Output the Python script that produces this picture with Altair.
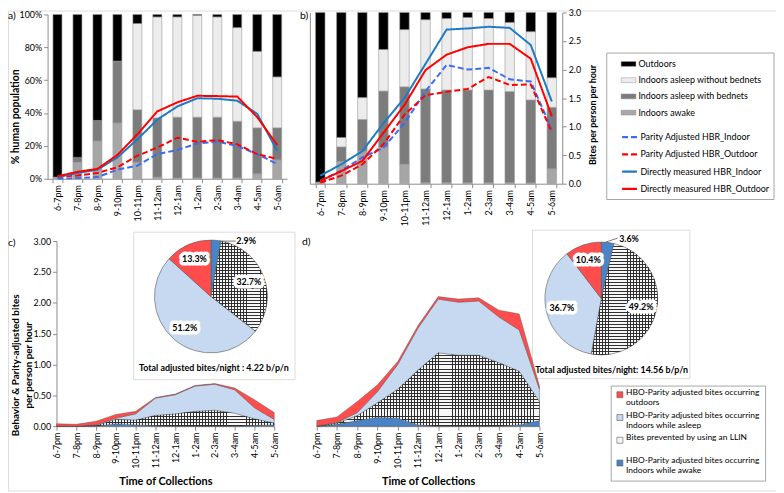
import altair as alt
import pandas as pd

FONT = "Lato"

times = ["6-7pm", "7-8pm", "8-9pm", "9-10pm", "10-11pm", "11-12am",
         "12-1am", "1-2am", "2-3am", "3-4am", "4-5am", "5-6am"]

# ---- panel a: human behaviour (% of population) ----
bar_cats = ["Outdoors", "Indoors asleep without bednets",
            "Indoors asleep with bednets", " Indoors awake"]
bar_colors = ["#000000", "#ececec", "#7c7c7c", "#a6a6a6"]

a_awake = [1, 10, 23, 34, 10, 1, 0.5, 0.5, 0.5, 0.5, 3, 11.5]
a_with = [0, 3, 12.5, 37.6, 32, 36, 37, 37, 37, 34.5, 28, 19.5]
a_without = [0, 0, 0, 0, 52.5, 61.5, 61, 62, 61, 57, 46.5, 31]
a_out = [99, 87, 64.5, 28.4, 5.5, 1.5, 1.5, 0.5, 1.5, 8, 22.5, 38]

line_names = ["Parity Adjusted HBR_Indoor", "Parity Adjusted HBR_Outdoor",
              "Directly measured HBR_Indoor", "Directly measured HBR_Outdoor"]
line_colors = ["#3d6cf2", "#ff0000", "#1f7ac4", "#ff0000"]
line_dashes = [[6, 3], [6, 3], [1, 0], [1, 0]]

a_par_in = [0, 0.5, 1, 5.5, 8, 15, 17.5, 21.5, 22.5, 20, 15, 9]
a_par_out = [1, 2, 3.5, 7, 14, 19, 25, 22.5, 23.5, 21, 15, 12]
a_dir_in = [1, 3.5, 5.5, 13, 24, 36, 44, 49, 48.7, 47.5, 39.5, 17]
a_dir_out = [1.5, 4.2, 6, 14.5, 27, 41, 46.5, 50.5, 50.3, 50, 37.5, 20.5]

# ---- panel b ----
b_awake = [1, 13, 19, 21.4, 11.4, 0.5, 0.5, 0.5, 0.5, 0.5, 0.5, 8.7]
b_with = [0, 8.5, 18.5, 32.7, 45.2, 54.8, 54.2, 54.2, 54.2, 53.3, 48.4, 35.9]
b_without = [0, 5.5, 12.8, 24.3, 33.4, 40.5, 41.8, 42.4, 41.8, 40.4, 39.9, 17.3]
b_out = [99, 73, 49.7, 21.6, 10, 4.2, 3.5, 2.9, 3.5, 5.8, 11.2, 38.1]

b_par_in = [0.05, 0.23, 0.46, 0.63, 1.06, 1.62, 2.08, 2.0, 2.03, 1.83, 1.79, 0.95]
b_par_out = [0.02, 0.14, 0.34, 0.69, 1.21, 1.55, 1.61, 1.66, 1.87, 1.73, 1.74, 0.9]
b_dir_in = [0.14, 0.34, 0.57, 1.06, 1.5, 2.1, 2.7, 2.72, 2.75, 2.73, 2.43, 1.44]
b_dir_out = [0.05, 0.22, 0.40, 0.89, 1.38, 1.99, 2.26, 2.39, 2.45, 2.45, 2.19, 1.18]

# ---- panels c / d: adjusted bites ----
area_cats = ["HBO-Parity adjusted bites occurring|outdoors",
             "HBO-Parity adjusted bites occurring|Indoors while asleep",
             "Bites prevented by using an LLIN| ",
             "HBO-Parity adjusted bites occurring|Indoors while awake"]
area_colors = ["#ff4d4d", "#c6d9f1", "#f7f7f7", "#4a84c8"]

c_awake = [0, 0, 0, 0.04, 0.02, 0.005, 0, 0, 0, 0, 0.01, 0.02]
c_llin = [0, 0, 0.01, 0.07, 0.08, 0.17, 0.2, 0.24, 0.26, 0.21, 0.11, 0.03]
c_asleep = [0, 0, 0.01, 0.02, 0.10, 0.28, 0.31, 0.41, 0.42, 0.38, 0.18, 0.06]
c_out = [0.04, 0.03, 0.06, 0.06, 0.04, 0.01, 0.01, 0.01, 0.01, 0.03, 0.13, 0.11]

d_awake = [0, 0.03, 0.09, 0.14, 0.13, 0.02, 0, 0, 0, 0, 0.02, 0.09]
d_llin = [0, 0.02, 0.08, 0.24, 0.47, 0.89, 1.19, 1.15, 1.15, 1.03, 0.87, 0.31]
d_asleep = [0, 0.01, 0.05, 0.18, 0.40, 0.68, 0.87, 0.86, 0.88, 0.74, 0.67, 0.20]
d_out = [0.09, 0.09, 0.18, 0.11, 0.05, 0.04, 0.04, 0.05, 0.05, 0.11, 0.26, 0.05]

# pie shares, clockwise from 12 o'clock: awake, LLIN, asleep, outdoors
c_pie = [2.9, 32.7, 51.2, 13.3]
d_pie = [3.6, 49.2, 36.7, 10.4]
c_total = "Total adjusted bites/night : 4.22 b/p/n"
d_total = "Total adjusted bites/night: 14.56 b/p/n"


def long_df(series, names, orders):
    rows = []
    for vals, name, o in zip(series, names, orders):
        for t, v in zip(times, vals):
            rows.append({"time": t, "cat": name, "val": v, "ord": o})
    return pd.DataFrame(rows)


bar_order_names = [bar_cats[3], bar_cats[2], bar_cats[1], bar_cats[0]]
area_order_names = [area_cats[3], area_cats[2], area_cats[1], area_cats[0]]

a_bar_df = long_df([a_awake, a_with, a_without, a_out], bar_order_names, [1, 2, 3, 4])
b_bar_df = long_df([b_awake, b_with, b_without, b_out], bar_order_names, [1, 2, 3, 4])
a_line_df = long_df([a_par_in, a_par_out, a_dir_in, a_dir_out], line_names, [1, 2, 3, 4])
b_line_df = long_df([b_par_in, b_par_out, b_dir_in, b_dir_out], line_names, [1, 2, 3, 4])
c_area_df = long_df([c_awake, c_llin, c_asleep, c_out], area_order_names, [1, 2, 3, 4])
d_area_df = long_df([d_awake, d_llin, d_asleep, d_out], area_order_names, [1, 2, 3, 4])


def pie_df(vals):
    return pd.DataFrame({
        "cat": area_order_names, "val": vals, "ord": [1, 2, 3, 4],
        "lab_in": ["" if i == 0 else f"{v}%" for i, v in enumerate(vals)],
        "lab_out": [f"{v}%" if i == 0 else "" for i, v in enumerate(vals)],
    })


c_pie_df = pie_df(c_pie)
d_pie_df = pie_df(d_pie)


# ---- cross-hatch texture made of hard-stop gradients ----
def stripes(n, horizontal):
    clear, ink = "rgba(0,0,0,0)", "#303030"
    stops = []
    for i in range(n):
        a, b, c = i / n, (i + 0.7) / n, (i + 1) / n
        stops += [alt.GradientStop(color=clear, offset=a),
                  alt.GradientStop(color=clear, offset=b),
                  alt.GradientStop(color=ink, offset=b),
                  alt.GradientStop(color=ink, offset=c)]
    if horizontal:
        return alt.LinearGradient(gradient="linear", stops=stops, x1=0, x2=0, y1=0, y2=1)
    return alt.LinearGradient(gradient="linear", stops=stops, x1=0, x2=1, y1=0, y2=0)


only_llin = alt.condition("datum.ord == 2", alt.value(1), alt.value(0))

# ---- scales / legends ----
color_scale = alt.Scale(domain=bar_cats, range=bar_colors)
stroke_scale = alt.Scale(domain=line_names, range=line_colors)
dash_scale = alt.Scale(domain=line_names, range=line_dashes)
fill_scale = alt.Scale(domain=area_cats, range=area_colors)

leg_bars = alt.Legend(orient="none", legendX=619, legendY=46, title=None,
                      symbolType="M-1,-0.33H1V0.33H-1Z", symbolSize=225,
                      symbolStrokeColor="#9a9a9a", symbolStrokeWidth=0.5,
                      labelFont=FONT, labelFontSize=9, labelOffset=2,
                      rowPadding=3.4, padding=0, labelLimit=300)
leg_lines = alt.Legend(orient="none", legendX=619, legendY=119, title=None,
                       symbolType="stroke", symbolSize=225, symbolStrokeWidth=2.2,
                       labelFont=FONT, labelFontSize=9, labelOffset=2,
                       rowPadding=3.4, padding=0, labelLimit=300)
leg_area = alt.Legend(orient="none", legendX=609, legendY=379, title=None,
                      symbolType="square", symbolSize=36, symbolStrokeWidth=0.6,
                      symbolStrokeColor="#595959", symbolOpacity=1,
                      labelExpr="split(datum.label, '|')",
                      labelFont=FONT, labelFontSize=8.5, labelOffset=2,
                      labelBaseline="alphabetic", labelLimit=300,
                      rowPadding=3, padding=5, strokeColor="#a6a6a6")

lab = dict(labelFont=FONT, labelFontSize=9, labelColor="#000000",
           domainColor="#8c8c8c", tickColor="#8c8c8c", grid=False)
title_style = dict(titleFont=FONT, titleFontWeight="bold", titleColor="#000000")

W, H = 776, 485

# ---- panel a ----
ax_a_x = alt.Axis(orient="bottom", offset=-(H - 170), labelAngle=-90, title=None,
                  tickBand="extent", tickSize=4, labelPadding=2, **lab)
ax_a_y = alt.Axis(orient="left", offset=-40, values=[0, 20, 40, 60, 80, 100],
                  labelExpr="datum.value + '%'", tickSize=4,
                  title="% human population", titleFontSize=10.5,
                  titleX=-32, titleY=107, titleAngle=270, titleAlign="center",
                  titleBaseline="middle", **title_style, **lab)
xa = alt.X("time:N", scale=alt.Scale(domain=times, range=[40, 282],
                                      paddingInner=0.55, paddingOuter=0.27), axis=ax_a_x)
a_bars = alt.Chart(a_bar_df).mark_bar(stroke="#9a9a9a", strokeWidth=0.6).encode(
    x=xa,
    y=alt.Y("val:Q", stack="zero", scale=alt.Scale(domain=[0, 100], range=[170, 4]), axis=ax_a_y),
    color=alt.Color("cat:N", scale=color_scale, legend=leg_bars),
    order=alt.Order("ord:Q"),
)
a_lines = alt.Chart(a_line_df).mark_line(strokeWidth=2).encode(
    x=xa,
    y=alt.Y("val:Q", stack=None, scale=alt.Scale(domain=[0, 100], range=[170, 4]), axis=ax_a_y),
    stroke=alt.Stroke("cat:N", scale=stroke_scale, legend=leg_lines),
    strokeDash=alt.StrokeDash("cat:N", scale=dash_scale, legend=leg_lines),
    order=alt.Order("ord:Q"),
)
A = alt.layer(a_bars, a_lines)

# ---- panel b ----
ax_b_x = alt.Axis(orient="bottom", offset=-(H - 175), labelAngle=-90, title=None,
                  tickBand="extent", tickSize=4, labelPadding=2, **lab)
ax_b_left = alt.Axis(orient="left", offset=-305, labels=False, ticks=False, title=None,
                     domainColor="#8c8c8c", grid=False)
ax_b_right = alt.Axis(orient="right", offset=-(W - 560), values=[0, 0.5, 1, 1.5, 2, 2.5, 3],
                      format=".1f", tickSize=4, title="Bites per person per hour",
                      titleFontSize=9, titleX=31, titleY=105, titleAngle=270,
                      titleAlign="center", titleBaseline="middle", **title_style, **lab)
xb = alt.X("time:N", scale=alt.Scale(domain=times, range=[305, 560],
                                      paddingInner=0.55, paddingOuter=0.27), axis=ax_b_x)
b_bars = alt.Chart(b_bar_df).mark_bar(stroke="#9a9a9a", strokeWidth=0.6).encode(
    x=xb,
    y=alt.Y("val:Q", stack="zero", scale=alt.Scale(domain=[0, 100], range=[175, 2]), axis=ax_b_left),
    color=alt.Color("cat:N", scale=color_scale, legend=leg_bars),
    order=alt.Order("ord:Q"),
)
b_lines = alt.Chart(b_line_df).mark_line(strokeWidth=2).encode(
    x=xb,
    y=alt.Y("val:Q", stack=None, scale=alt.Scale(domain=[0, 3], range=[175, 2]), axis=ax_b_right),
    stroke=alt.Stroke("cat:N", scale=stroke_scale, legend=leg_lines),
    strokeDash=alt.StrokeDash("cat:N", scale=dash_scale, legend=leg_lines),
    order=alt.Order("ord:Q"),
)
B = alt.layer(b_bars, b_lines).resolve_scale(y="independent")


# ---- panels c / d ----
def area_panel(df, x0, x1, yaxis, nx, ny):
    ax_x = alt.Axis(orient="bottom", offset=-(H - 420), labelAngle=-90, tickSize=4,
                    labelPadding=2, title="Time of Collections", titleFontSize=11,
                    titleY=56, titleBaseline="middle", **title_style, **lab)
    xenc = alt.X("time:N", scale=alt.Scale(type="point", domain=times, range=[x0, x1], padding=0),
                 axis=ax_x)
    yenc = alt.Y("val:Q", stack="zero", scale=alt.Scale(domain=[0, 3], range=[420, 233]),
                 axis=yaxis)
    base = alt.Chart(df).mark_area(stroke="#4d4d4d", strokeWidth=0.4).encode(
        x=xenc, y=yenc,
        fill=alt.Fill("cat:N", scale=fill_scale, legend=leg_area),
        order=alt.Order("ord:Q"),
    )
    layers = [base]
    for n, horiz in ((nx, False), (ny, True)):
        layers.append(alt.Chart(df).mark_area(fill=stripes(n, horiz)).encode(
            x=xenc, y=yenc, detail="cat:N", opacity=only_llin,
            order=alt.Order("ord:Q"),
        ))
    return layers


ax_c_y = alt.Axis(orient="left", offset=-49, values=[0, 0.5, 1, 1.5, 2, 2.5, 3],
                  format=".2f", tickSize=4,
                  title=["Behavior & Parity-adjusted bites", "per person per hour"],
                  titleFontSize=10, titleLineHeight=12.5, titleX=-41, titleY=358,
                  titleAngle=270, titleAlign="center", titleBaseline="middle",
                  **title_style, **lab)


def pie_layers(df, cx, cy, r, out_dx, out_dy, nx, ny):
    theta = alt.Theta("val:Q", stack=True)
    base = alt.Chart(df).encode(theta=theta, order=alt.Order("ord:Q"),
                                x=alt.value(cx), y=alt.value(cy))
    arcs = base.mark_arc(radius=r, stroke="#595959", strokeWidth=0.6).encode(
        fill=alt.Fill("cat:N", scale=fill_scale, legend=leg_area))
    hx = base.mark_arc(radius=r, fill=stripes(nx, False)).encode(opacity=only_llin)
    hy = base.mark_arc(radius=r, fill=stripes(ny, True)).encode(opacity=only_llin)
    halo = base.mark_text(radius=41, font=FONT, fontSize=9, fontWeight="bold",
                          color="white", stroke="white", strokeWidth=7,
                          strokeJoin="round").encode(text="lab_in:N")
    txt = base.mark_text(radius=41, font=FONT, fontSize=9, fontWeight="bold",
                         color="black").encode(text="lab_in:N")
    out = base.mark_text(radius=62, dx=out_dx, dy=out_dy, font=FONT, fontSize=9,
                         fontWeight="bold", color="black").encode(text="lab_out:N")
    return [arcs, hx, hy, halo, txt, out]


one = pd.DataFrame({"k": [0]})


def deco_rect(x0, y0, x1, y1, color):
    return alt.Chart(one).mark_rect(fill=None, stroke=color, strokeWidth=1).encode(
        x=alt.value(x0), x2=alt.value(x1), y=alt.value(y0), y2=alt.value(y1))


def leader(x0, y0, x1, y1):
    return alt.Chart(one).mark_rule(stroke="#595959", strokeWidth=0.8).encode(
        x=alt.value(x0), x2=alt.value(x1), y=alt.value(y0), y2=alt.value(y1))


def label(text, x, y, size=10.5, weight="normal", align="left"):
    return alt.Chart(pd.DataFrame({"t": [text]})).mark_text(
        font=FONT, fontSize=size, fontWeight=weight, align=align, baseline="middle",
        color="black").encode(text="t:N", x=alt.value(x), y=alt.value(y))


C = alt.layer(
    deco_rect(127, 224, 290, 373, "#dcdcdc"),
    *area_panel(c_area_df, 49, 269, ax_c_y, 73, 5),
    *pie_layers(c_pie_df, 205, 289, 57, 30, 6, 19, 30),
    leader(214, 233, 230, 233),
    label(c_total, 208, 361, 9, "bold", "center"),
)
D = alt.layer(
    deco_rect(530, 222, 689, 372, "#dcdcdc"),
    *area_panel(d_area_df, 312, 537, None, 75, 25),
    *pie_layers(d_pie_df, 599.5, 291, 57, 21, 2, 22, 37),
    leader(604, 234, 616, 230),
    label(d_total, 610, 363, 9, "bold", "center"),
)

extras = alt.layer(
    deco_rect(605, 43, 774, 191, "#a6a6a6"),
    label("a)", 0, 6, 10.5),
    label("b)", 295, 6, 10.5),
    label("c)", 0, 235, 10.5),
    label("d)", 297, 234, 10.5),
)

chart = alt.layer(A, B, C, D, extras).resolve_scale(
    x="independent", y="independent", theta="independent"
).properties(
    width=W, height=H, autosize=alt.AutoSizeParams(type="none"), padding=0
).configure_view(stroke=None).configure(font=FONT)

chart.save("out.html", embed_options={"renderer": "svg", "actions": False})
